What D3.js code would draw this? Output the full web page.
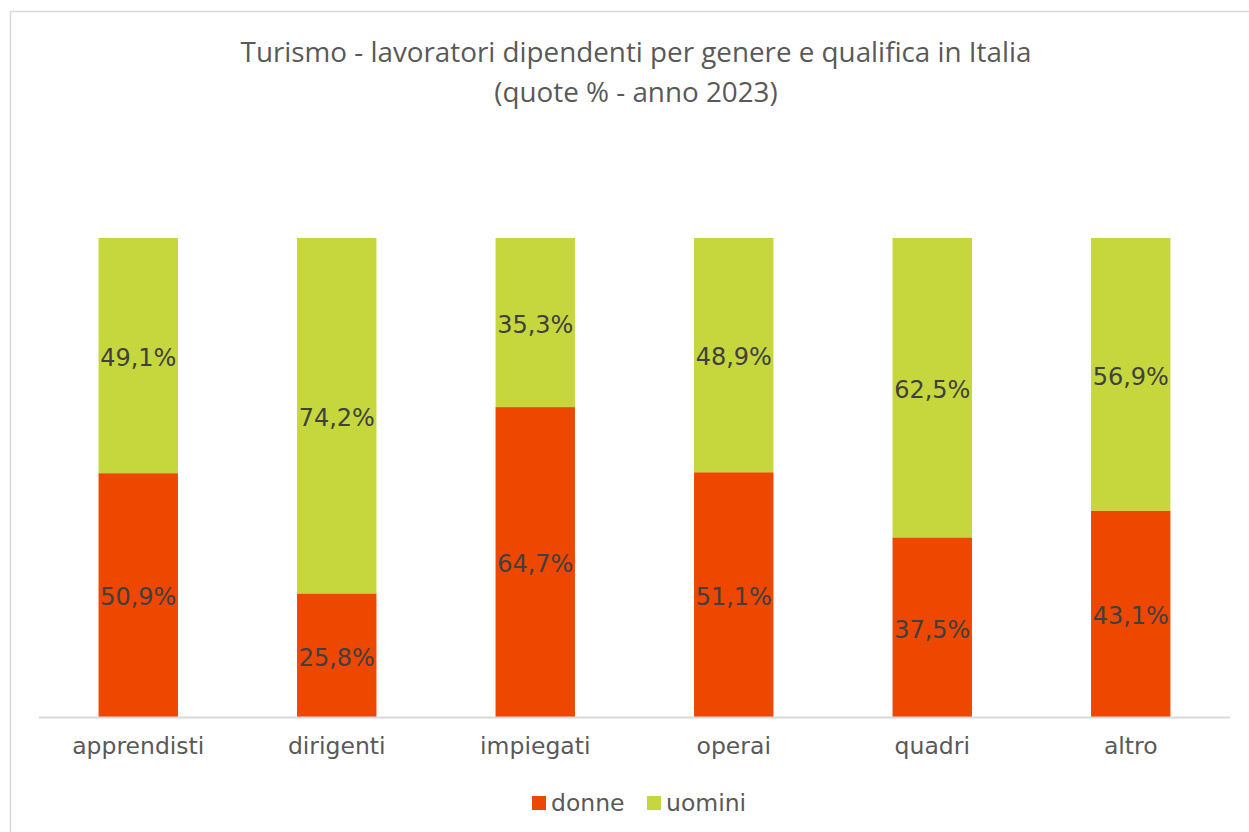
<!DOCTYPE html>
<html>
<head>
<meta charset="utf-8">
<script src="https://cdn.jsdelivr.net/npm/d3@7"></script>
<style>
  body{margin:0;background:#fff;}
  svg text{font-family:"DejaVu Sans",Verdana,sans-serif;}
</style>
</head>
<body>
<svg id="chart" width="1249" height="832"></svg>
<script>
var categories=['apprendisti','dirigenti','impiegati','operai','quadri','altro'];
var donne=[50.9,25.8,64.7,51.1,37.5,43.1];
var uomini=[49.1,74.2,35.3,48.9,62.5,56.9];
var seriesNames=['donne','uomini'];
var colors=['#ED4700','#C5D73C'];
var titleLines=['Turismo - lavoratori dipendenti per genere e qualifica in Italia','(quote % - anno 2023)'];

var svg=d3.select('#chart');
// chart frame
svg.append('rect').attr('x',10.5).attr('y',11.5).attr('width',1260).attr('height',840)
  .attr('fill','#fff').attr('stroke','#d9d9d9').attr('stroke-width',1.5);

var plotLeft=39, plotRight=1230, plotTop=238, plotBottom=717;
var x=d3.scaleBand().domain(categories).range([plotLeft,plotRight]).paddingInner(0.6).paddingOuter(0.3);
var y=d3.scaleLinear().domain([0,100]).range([plotBottom,plotTop]);

var rows=categories.map(function(c,i){return {cat:c,donne:donne[i],uomini:uomini[i]};});
var stack=d3.stack().keys(seriesNames)(rows);

var layers=svg.selectAll('g.layer').data(stack).enter().append('g').attr('class','layer')
  .attr('fill',function(d,i){return colors[i];});
layers.selectAll('rect').data(function(d){return d;}).enter().append('rect')
  .attr('x',function(d){return x(d.data.cat);})
  .attr('width',x.bandwidth())
  .attr('y',function(d){return y(d[1]);})
  .attr('height',function(d){return y(d[0])-y(d[1]);});

// data labels
stack.forEach(function(layer){
  svg.append('g').selectAll('text').data(layer).enter().append('text')
    .attr('x',function(d){return x(d.data.cat)+x.bandwidth()/2;})
    .attr('y',function(d){return (y(d[0])+y(d[1]))/2;})
    .attr('dy','0.43em')
    .attr('text-anchor','middle')
    .attr('font-size','24px')
    .attr('fill','#404040')
    .text(function(d){return d3.format('.1f')(d[1]-d[0]).replace('.',',')+'%';});
});

// axis
var axis=svg.append('g').attr('transform','translate(0,'+plotBottom+')')
  .call(d3.axisBottom(x).tickSize(0).tickPadding(20));
axis.select('.domain').attr('stroke','#d9d9d9').attr('stroke-width',2)
  .attr('d','M'+plotLeft+',0.5H'+plotRight);
axis.selectAll('text').attr('font-size','23.5px').attr('fill','#595959');

// title
svg.append('g').selectAll('text').data(titleLines).enter().append('text')
  .attr('x',636).attr('y',function(d,i){return 62+i*40;})
  .attr('text-anchor','middle')
  .style('font-family','"Open Sans",sans-serif')
  .attr('font-size','27.8px').attr('fill','#595959')
  .text(function(d){return d;});

// legend
var legend=svg.append('g').attr('transform','translate(532,796)');
var lx=[0,115];
seriesNames.forEach(function(s,i){
  var g=legend.append('g').attr('transform','translate('+lx[i]+',0)');
  g.append('rect').attr('width',14).attr('height',14).attr('y',0).attr('fill',colors[i]);
  g.append('text').attr('x',19).attr('y',7).attr('dy','0.35em')
    .attr('font-size','23.5px').attr('fill','#595959').text(s);
});
</script>
</body>
</html>
